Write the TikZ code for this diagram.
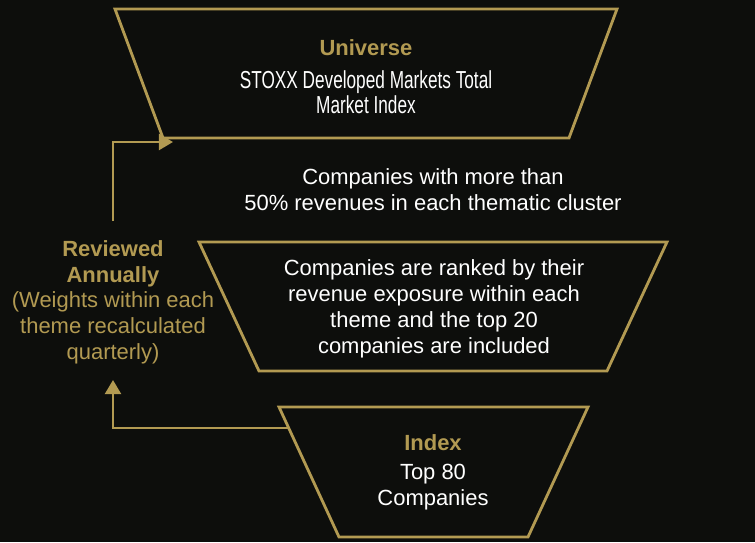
\documentclass[tikz,border=0pt]{standalone}
\usepackage{fontspec}
\setmainfont{Liberation Sans}
\usetikzlibrary{arrows.meta}
\definecolor{gold}{RGB}{178,154,82}
\definecolor{bgdark}{RGB}{13,14,12}

\begin{document}
\begin{tikzpicture}
  [x=0.02cm,y=-0.02cm,
  funnel/.style={draw=gold,line width=1.6pt,line join=miter},
  heading/.style={text=gold,font=\fontsize{12.5}{14.7}\selectfont\bfseries,
                  align=center,inner sep=0,anchor=base},
  body/.style={text=white,font=\fontsize{12.5}{14.7}\selectfont,
                  align=center,inner sep=0,anchor=base},
  note/.style={text=gold,font=\fontsize{12.5}{14.7}\selectfont,
                  align=center,inner sep=0,anchor=base},
  narrow/.style={font=\fontsize{14}{14.2}\selectfont,xscale=0.7,transform shape},
  review/.style={draw=gold,line width=1.6pt,
                  -{Triangle[length=8pt,width=9pt]}}
                  ]
  \fill[bgdark] (0,0) rectangle (755,542);
  \useasboundingbox (0,0) rectangle (755,542);

  \coordinate (t1) at (115,9);
  \coordinate (t2) at (617,9);
  \coordinate (t3) at (569,138);
  \coordinate (t4) at (163,138);
  \coordinate (r1) at (199,242);
  \coordinate (r2) at (667,242);
  \coordinate (r3) at (607,371);
  \coordinate (r4) at (259,371);
  \coordinate (i1) at (279,407);
  \coordinate (i2) at (588,407);
  \coordinate (i3) at (528,537);
  \coordinate (i4) at (339,537);
  \coordinate (a1) at (113,221);
  \coordinate (a2) at (173,142);
  \coordinate (a3) at (288,428);
  \coordinate (a4) at (113,380);

  \draw[funnel] (t1) -- (t2) -- (t3) -- (t4) -- cycle;
  \draw[funnel] (r1) -- (r2) -- (r3) -- (r4) -- cycle;
  \draw[funnel] (i1) -- (i2) -- (i3) -- (i4) -- cycle;

  % base anchor sits on the last line
  \node[heading] (univ) at (366,55) {Universe};
  \node[body,narrow] (stoxx) at (366,113) {STOXX Developed Markets Total\\Market Index};
  \node[body] (filter) at (433,210) {Companies with more than\\50\% revenues in each thematic cluster};
  \node[body] (rank) at (434,353) {Companies are ranked by their\\revenue exposure within each\\theme and the top 20\\companies are included};
  \node[heading] (idx) at (433,450) {Index};
  \node[body] (top) at (433,505) {Top 80\\Companies};
  \node[heading] (rev) at (113,282) {Reviewed\\Annually};
  \node[note] (weights) at (113,359) {(Weights within each\\theme recalculated\\quarterly)};

  \draw[review] (a1) |- (a2);
  \draw[review] (a3) -| (a4);
\end{tikzpicture}
\end{document}
